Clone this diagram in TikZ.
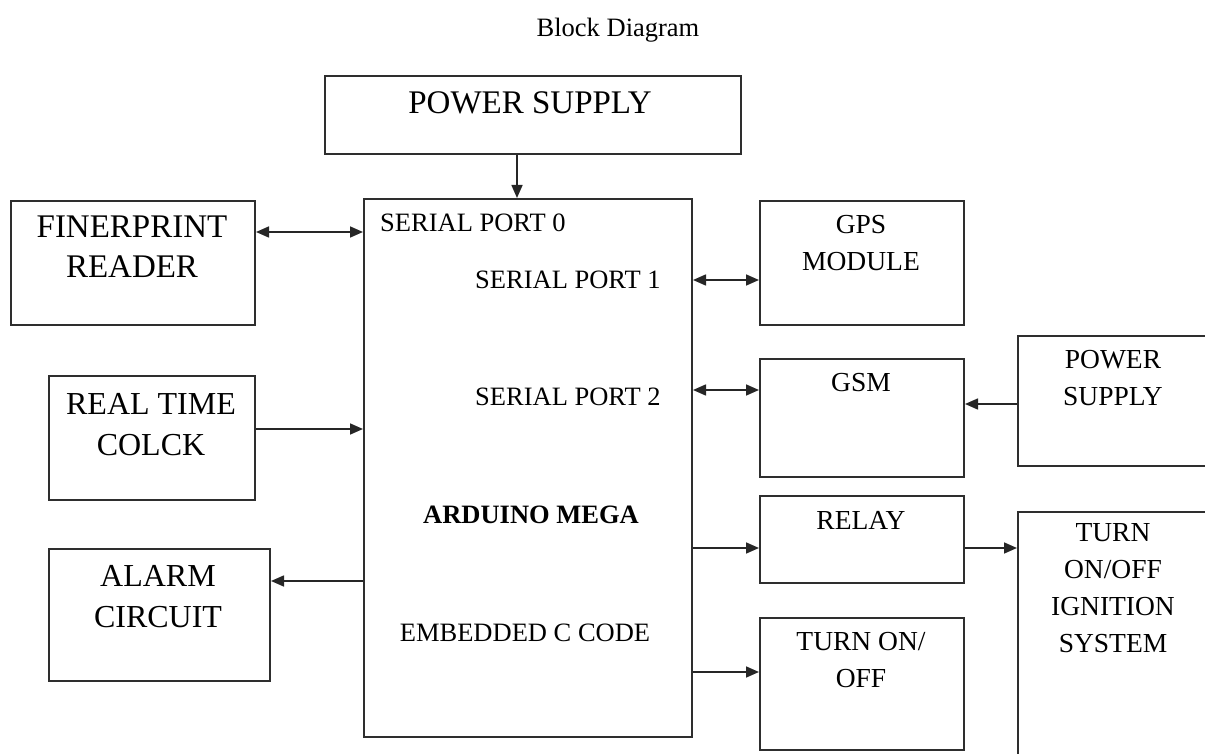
\documentclass[tikz,border=0pt]{standalone}
\usepackage{fontspec}
\setmainfont{Liberation Serif}
\usetikzlibrary{arrows.meta}
\newcommand\fBig{\fontsize{33}{40}\selectfont}
\newcommand\fMid{\fontsize{32}{41}\selectfont}
\newcommand\fSm{\fontsize{27.5}{37}\selectfont}
\newcommand\fPort{\fontsize{26.5}{32}\selectfont}
\begin{document}
\begin{tikzpicture}[x=1pt,y=-1pt,
  blk/.style={draw=black!82,line width=2pt,rectangle,inner sep=0pt,anchor=north west},
  lbl/.style={inner sep=0pt,align=center,text=black},
  conn/.style={draw=black!85,line width=1.6pt},
  tip/.style={-{Triangle[length=13pt,width=11pt]}},
  dtip/.style={{Triangle[length=13pt,width=11pt]}-{Triangle[length=13pt,width=11pt]}}]
\useasboundingbox (0,0) rectangle (1205,754);
% title
\node[lbl,anchor=base,font=\fontsize{26.5}{32}\selectfont] (title) at (618,37) {Block Diagram};
% boxes
\node[blk,minimum width=416pt,minimum height=78pt] (ps) at (324,75) {};
\node[blk,minimum width=328pt,minimum height=538pt] (ard) at (363,198) {};
\node[blk,minimum width=244pt,minimum height=124pt] (fp) at (10,200) {};
\node[blk,minimum width=206pt,minimum height=124pt] (rtc) at (48,375) {};
\node[blk,minimum width=221pt,minimum height=132pt] (al) at (48,548) {};
\node[blk,minimum width=204pt,minimum height=124pt] (gps) at (759,200) {};
\node[blk,minimum width=204pt,minimum height=118pt] (gsm) at (759,358) {};
\node[blk,minimum width=193pt,minimum height=130pt] (ps2) at (1017,335) {};
\node[blk,minimum width=204pt,minimum height=87pt] (rel) at (759,495) {};
\node[blk,minimum width=204pt,minimum height=132pt] (to) at (759,617) {};
\node[blk,minimum width=193pt,minimum height=250pt] (ign) at (1017,511) {};
% labels
\node[lbl,font=\fBig] (pst) at (530,103) {POWER SUPPLY};
\node[lbl,font=\fBig] (fpt) at (132,247) {FINERPRINT\\READER};
\node[lbl,font=\fMid] (rtct) at (151,424.5) {REAL TIME\\COLCK};
\node[lbl,font=\fMid] (alt) at (158,596.5) {ALARM\\CIRCUIT};
\node[lbl,font=\fSm] (gpst) at (861,243.5) {GPS\\MODULE};
\node[lbl,font=\fSm] (gsmt) at (861,383) {GSM};
\node[lbl,font=\fSm] (ps2t) at (1113,378.5) {POWER\\SUPPLY};
\node[lbl,font=\fSm] (relt) at (861,520) {RELAY};
\node[lbl,font=\fSm] (tot) at (861,660.5) {TURN ON/\\OFF};
\node[lbl,font=\fSm] (ignt) at (1113,588) {TURN\\ON/OFF\\IGNITION\\SYSTEM};
\node[lbl,font=\fPort,anchor=west] (sp0) at (380,223) {SERIAL PORT 0};
\node[lbl,font=\fPort,anchor=west] (sp1) at (475,280) {SERIAL PORT 1};
\node[lbl,font=\fPort,anchor=west] (sp2) at (475,397) {SERIAL PORT 2};
\node[lbl,font=\fPort\bfseries] (ardt) at (531,515) {ARDUINO MEGA};
\node[lbl,font=\fPort] (embt) at (525,633) {EMBEDDED C CODE};
% helper rows
\coordinate (r232) at (0,232);
\coordinate (r429) at (0,429);
\coordinate (r581) at (0,581);
\coordinate (r280) at (0,280);
\coordinate (r390) at (0,390);
\coordinate (r404) at (0,404);
\coordinate (r548) at (0,548);
\coordinate (r672) at (0,672);
\coordinate (c517) at (517,0);
% connectors
\draw[conn,tip] (ps.south -| c517) -- (ard.north -| c517);
\draw[conn,dtip] (fp.east |- r232) -- (ard.west |- r232);
\draw[conn,tip] (rtc.east |- r429) -- (ard.west |- r429);
\draw[conn,tip] (ard.west |- r581) -- (al.east |- r581);
\draw[conn,dtip] (ard.east |- r280) -- (gps.west |- r280);
\draw[conn,dtip] (ard.east |- r390) -- (gsm.west |- r390);
\draw[conn,tip] (ps2.west |- r404) -- (gsm.east |- r404);
\draw[conn,tip] (ard.east |- r548) -- (rel.west |- r548);
\draw[conn,tip] (ard.east |- r672) -- (to.west |- r672);
\draw[conn,tip] (rel.east |- r548) -- (ign.west |- r548);
\end{tikzpicture}
\end{document}
